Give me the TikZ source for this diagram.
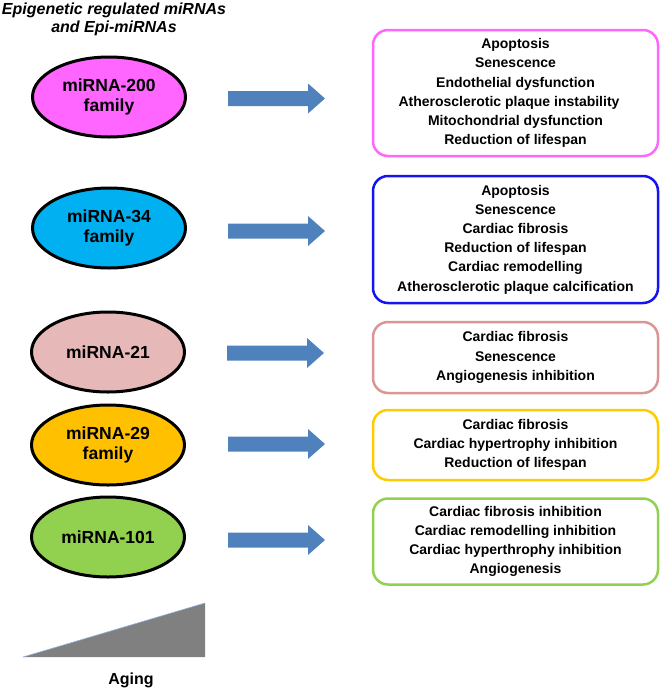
\documentclass[tikz,border=0pt]{standalone}
\usepackage{fontspec}
\setmainfont{Liberation Sans}
\usetikzlibrary{shapes.geometric}
\definecolor{cMag}{HTML}{FF66FF}
\definecolor{cCyan}{HTML}{00B0F0}
\definecolor{cRose}{HTML}{E6B9B8}
\definecolor{cRoseB}{HTML}{D99694}
\definecolor{cGold}{HTML}{FFC000}
\definecolor{cGoldB}{HTML}{FFCC00}
\definecolor{cGreen}{HTML}{92D050}
\definecolor{cBlueB}{HTML}{1414F0}
\definecolor{cArrow}{HTML}{4F81BD}
\definecolor{cTri}{HTML}{808080}
\definecolor{cTriEdge}{HTML}{8EB4E3}
\tikzset{
  mirna/.style={ellipse, draw=black, line width=3pt, minimum width=153pt, minimum height=80pt, inner sep=0pt,
    align=center, font=\bfseries\fontsize{17.5}{20}\selectfont},
  effectbox/.style={rectangle, rounded corners=15pt, line width=2.5pt, fill=white, minimum width=285pt,
    align=center, inner sep=0pt, font=\bfseries\fontsize{14}{19.2}\selectfont},
  bigarrow/.pic={\fill[cArrow] (0,-7.5) -- (80,-7.5) -- (80,-15) -- (97,0) -- (80,15) -- (80,7.5) -- (0,7.5) -- cycle;}
}
\begin{document}
\begin{tikzpicture}[x=1pt,y=-1pt]
\useasboundingbox (0,0) rectangle (661,694);

\node[align=center, font=\bfseries\itshape\fontsize{16}{18}\selectfont] (title) at (114,19)
  {Epigenetic regulated miRNAs\\and Epi-miRNAs};

\node[mirna, fill=cMag] (m200) at (109,97) {miRNA-200\\family};
\node[mirna, fill=cCyan] (m34) at (109,228) {miRNA-34\\family};
\node[mirna, fill=cRose] (m21) at (108,352) {miRNA-21};
\node[mirna, fill=cGold] (m29) at (108,445) {miRNA-29\\family};
\node[mirna, fill=cGreen] (m101) at (108,537) {miRNA-101};

\pic at (228,98.5) {bigarrow};
\pic at (228,231) {bigarrow};
\pic at (227,353) {bigarrow};
\pic at (228,444) {bigarrow};
\pic at (228,540) {bigarrow};

\node[effectbox, draw=cMag, minimum height=126pt] (e200) at (515.5,93)
  {Apoptosis\\Senescence\\Endothelial dysfunction\\\mbox{Atherosclerotic plaque instability\hspace{13pt}}\\Mitochondrial dysfunction\\Reduction of lifespan};
\node[effectbox, draw=cBlueB, minimum height=127pt] (e34) at (515.5,239.5)
  {Apoptosis\\Senescence\\Cardiac fibrosis\\Reduction of lifespan\\Cardiac remodelling\\Atherosclerotic plaque calcification};
\node[effectbox, draw=cRoseB, minimum height=71pt] (e21) at (515.5,357.5)
  {Cardiac fibrosis\\Senescence\\Angiogenesis inhibition};
\node[effectbox, draw=cGoldB, minimum height=70pt] (e29) at (515.5,445)
  {Cardiac fibrosis\\Cardiac hypertrophy inhibition\\Reduction of lifespan};
\node[effectbox, draw=cGreen, minimum height=86pt] (e101) at (515.5,541.5)
  {Cardiac fibrosis inhibition\\Cardiac remodelling inhibition\\Cardiac hyperthrophy inhibition\\Angiogenesis};

\fill[cTri] (23,657) -- (205,603) -- (205,657) -- cycle;
\draw[cTriEdge, line width=0.6pt] (23,657) -- (205,603);
\node[font=\bfseries\fontsize{16}{19}\selectfont] (aging) at (131,680) {Aging};
\end{tikzpicture}
\end{document}
